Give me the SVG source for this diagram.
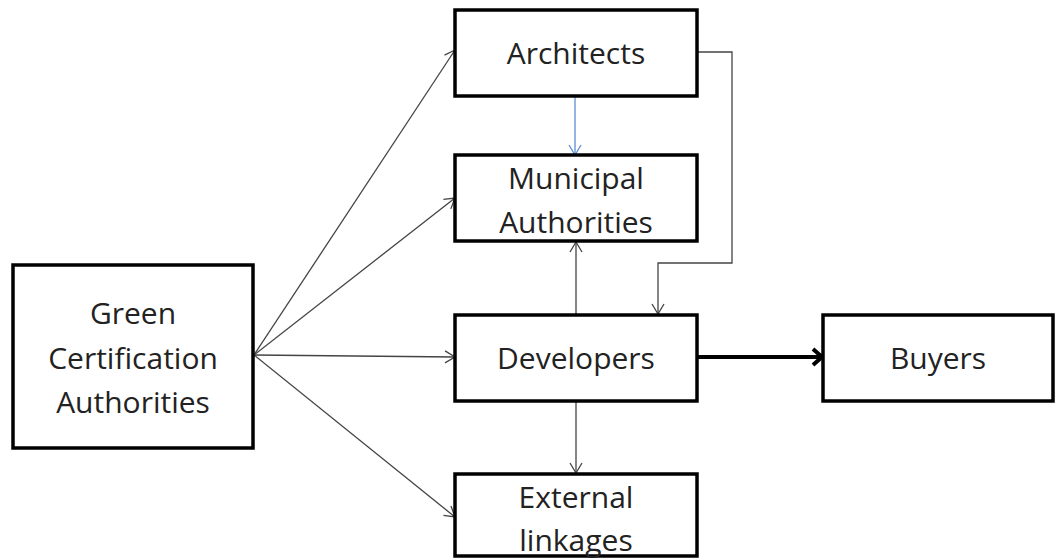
<svg xmlns="http://www.w3.org/2000/svg" width="1060" height="558" viewBox="0 0 1060 558">
<style>
.box{fill:#fff;stroke:#000;stroke-width:3.5}
.t{font-family:"Open Sans","Liberation Sans",sans-serif;font-size:30px;fill:#222;text-anchor:middle}
.c{fill:none;stroke:#444;stroke-width:1.3}
.blue{fill:none;stroke:#5b8fd6;stroke-width:1.3}
.thick{fill:none;stroke:#000;stroke-width:4}
</style>
<defs>
<marker id="a" markerWidth="14" markerHeight="14" refX="12" refY="7" orient="auto" markerUnits="userSpaceOnUse"><path d="M2,1 L12,7 L2,13" fill="none" stroke="#444" stroke-width="1.3"/></marker>
<marker id="ab" markerWidth="14" markerHeight="14" refX="12" refY="7" orient="auto" markerUnits="userSpaceOnUse"><path d="M2,1 L12,7 L2,13" fill="none" stroke="#5b8fd6" stroke-width="1.3"/></marker>
<marker id="at" markerWidth="16" markerHeight="20" refX="13" refY="10" orient="auto" markerUnits="userSpaceOnUse"><path d="M4,2 L13,10 L4,18" fill="none" stroke="#000" stroke-width="4"/></marker>
</defs>
<g id="connectors">
<line class="c" x1="254" y1="355" x2="455" y2="50" marker-end="url(#a)"/>
<line class="c" x1="254" y1="355" x2="455" y2="198" marker-end="url(#a)"/>
<line class="c" x1="254" y1="355" x2="455" y2="357" marker-end="url(#a)"/>
<line class="c" x1="254" y1="355" x2="455" y2="517" marker-end="url(#a)"/>
<line class="blue" x1="575" y1="96" x2="575" y2="155" marker-end="url(#ab)"/>
<line class="c" x1="576" y1="314" x2="576" y2="242" marker-end="url(#a)"/>
<line class="c" x1="576" y1="402" x2="576" y2="473" marker-end="url(#a)"/>
<polyline class="c" points="697,52 732,52 732,263 658,263 658,314" marker-end="url(#a)"/>
<line class="thick" x1="698" y1="357" x2="822" y2="357" marker-end="url(#at)"/>
</g>
<g id="green">
<rect class="box" x="13" y="265" width="240" height="183"/>
<text class="t" x="133" y="324">Green</text>
<text class="t" x="133" y="369">Certification</text>
<text class="t" x="133" y="413">Authorities</text>
</g>
<g id="architects">
<rect class="box" x="455" y="10" width="242" height="86"/>
<text class="t" x="576" y="64">Architects</text>
</g>
<g id="municipal">
<rect class="box" x="455" y="155" width="242" height="86"/>
<text class="t" x="576" y="189">Municipal</text>
<text class="t" x="576" y="233">Authorities</text>
</g>
<g id="developers">
<rect class="box" x="455" y="315" width="242" height="86"/>
<text class="t" x="576" y="369">Developers</text>
</g>
<g id="buyers">
<rect class="box" x="823" y="315" width="230" height="86"/>
<text class="t" x="938" y="369">Buyers</text>
</g>
<g id="external">
<rect class="box" x="455" y="474" width="242" height="82"/>
<text class="t" x="576" y="508">External</text>
<text class="t" x="576" y="551">linkages</text>
</g>
</svg>
